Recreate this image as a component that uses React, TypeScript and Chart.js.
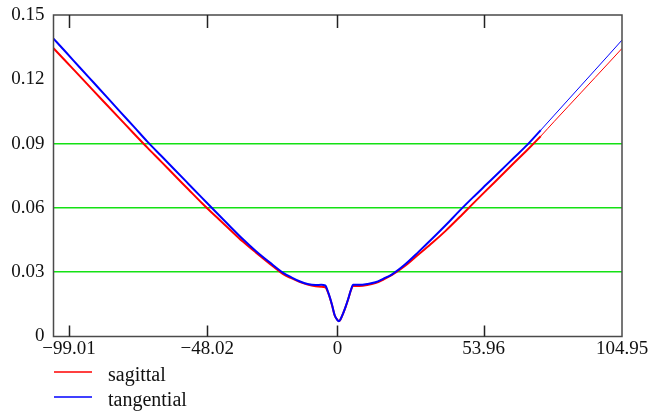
import React, { useEffect, useRef } from "react";
import { Chart, registerables } from "chart.js";

Chart.register(...registerables);

// ---- data ----
const xValues = [
  -104.7, -100, -95, -90, -85, -80, -75, -70, -65, -60, -55, -50, -45, -40, -35, -30, -25, -20, -17, -14, -11, -8,
  -6, -4.5, -3.3, -2, -1, 0, 0.5, 1, 2, 3, 4, 5, 5.8, 8, 11, 14, 17, 20, 25, 30, 35, 40, 45, 50, 55, 60, 65, 70,
  75, 80, 85, 90, 95, 100, 104.95,
];
const sagittal = [
  0.1345, 0.1282, 0.1215, 0.1147, 0.108, 0.1013, 0.0946, 0.088, 0.0816, 0.0751, 0.0687, 0.0623, 0.0562, 0.0503,
  0.0444, 0.0391, 0.034, 0.0291, 0.0272, 0.0255, 0.0242, 0.0234, 0.0232, 0.023, 0.02, 0.0147, 0.0098, 0.0078,
  0.0072, 0.0076, 0.0104, 0.0137, 0.0175, 0.0216, 0.0236, 0.0236, 0.024, 0.0249, 0.0266, 0.0286, 0.033, 0.0384,
  0.0437, 0.0494, 0.0556, 0.062, 0.0683, 0.0745, 0.0808, 0.087, 0.0935, 0.1004, 0.1072, 0.114, 0.1208, 0.1276,
  0.1344,
];
const tangential = [
  0.139, 0.1325, 0.1255, 0.1186, 0.1117, 0.1047, 0.0978, 0.0908, 0.0843, 0.0778, 0.0713, 0.0648, 0.0583, 0.0519,
  0.0456, 0.0398, 0.0346, 0.0297, 0.0276, 0.0258, 0.0245, 0.024, 0.0241, 0.0238, 0.0202, 0.0148, 0.0099, 0.0076,
  0.0071, 0.0077, 0.0104, 0.0138, 0.0176, 0.0218, 0.0241, 0.0241, 0.0245, 0.0253, 0.027, 0.0289, 0.0337, 0.0396,
  0.0457, 0.052, 0.0586, 0.0649, 0.071, 0.0771, 0.0833, 0.0894, 0.0963, 0.1033, 0.1103, 0.1173, 0.1243, 0.1313,
  0.1383,
];
const seriesLabels = ["sagittal", "tangential"];
const seriesColors = ["#ff0000", "#0000ff"];
const xTickValues = [-99.01, -48.02, 0, 53.96, 104.95];
const yTickValues = [0, 0.03, 0.06, 0.09, 0.12, 0.15];
const gridValues = [0.03, 0.06, 0.09];
const xMin = -104.7;
const xMax = 104.95;
const yMin = 0;
const yMax = 0.15;

const FONT = "'Liberation Serif', 'Times New Roman', serif";

const framePlugin = {
  id: "frameTicks",
  afterDatasetsDraw(chart: any) {
    const { ctx, chartArea, scales } = chart;
    const { left, right, top, bottom } = chartArea;
    ctx.save();
    ctx.strokeStyle = "#4a4a4a";
    ctx.lineWidth = 1.5;
    ctx.strokeRect(left, top, right - left, bottom - top);
    ctx.lineWidth = 1.5;
    ctx.strokeStyle = "#222";
    xTickValues.forEach((v) => {
      const px = Math.round(scales.x.getPixelForValue(v)) + 0.5;
      if (px > right - 2) return;
      ctx.beginPath();
      ctx.moveTo(px, bottom);
      ctx.lineTo(px, bottom - 11);
      ctx.moveTo(px, top);
      ctx.lineTo(px, top + 13);
      ctx.stroke();
    });
    ctx.restore();
  },
};

const legendPlugin = {
  id: "stackedLegend",
  afterDraw(chart: any) {
    const { ctx } = chart;
    ctx.save();
    chart.data.datasets.forEach((ds: any, i: number) => {
      const y = 372 + 25 * i;
      ctx.strokeStyle = ds.borderColor;
      ctx.lineWidth = 1.5;
      ctx.beginPath();
      ctx.moveTo(54, y);
      ctx.lineTo(92, y);
      ctx.stroke();
      ctx.fillStyle = "#111";
      ctx.font = `20px ${FONT}`;
      ctx.textBaseline = "alphabetic";
      ctx.textAlign = "left";
      ctx.fillText(ds.label, 108, y + 9);
    });
    ctx.restore();
  },
};

export default function App() {
  const canvasRef = useRef<HTMLCanvasElement | null>(null);

  useEffect(() => {
    if (!canvasRef.current) return;
    const chart = new Chart(canvasRef.current, {
      type: "line",
      data: {
        datasets: [sagittal, tangential].map((series, i) => ({
          label: seriesLabels[i],
          data: xValues.map((x, j) => ({ x, y: series[j] })),
          borderColor: seriesColors[i],
          backgroundColor: seriesColors[i],
          borderWidth: 2,
          pointRadius: 0,
          fill: false,
          order: i === 0 ? 1 : 0,
          cubicInterpolationMode: "monotone" as const,
          segment: {
            borderWidth: (c: any) => (c.p0.parsed.x > 0 && c.p0.parsed.y >= 0.09 ? 1 : 2),
          },
        })),
      },
      options: {
        animation: false,
        responsive: true,
        maintainAspectRatio: false,
        layout: { padding: { top: 15, right: 32, left: 0, bottom: 0 } },
        plugins: {
          legend: { display: false },
          tooltip: { enabled: false },
        },
        scales: {
          x: {
            type: "linear",
            min: xMin,
            max: xMax,
            afterBuildTicks: (scale: any) => {
              scale.ticks = xTickValues.map((v) => ({ value: v }));
            },
            afterFit: (scale: any) => {
              scale.height = 74.5;
            },
            grid: { display: false, drawTicks: false },
            border: { display: false },
            ticks: {
              autoSkip: false,
              maxRotation: 0,
              padding: 1,
              color: "#111",
              font: { family: FONT, size: 19 },
              callback: (v: any) => {
                const n = Number(v);
                if (n === 0) return "0";
                const s = Math.abs(n).toFixed(2);
                return n < 0 ? "\u2212" + s : s;
              },
            },
          },
          y: {
            type: "linear",
            min: yMin,
            max: yMax,
            afterBuildTicks: (scale: any) => {
              scale.ticks = yTickValues.map((v) => ({ value: v }));
            },
            afterFit: (scale: any) => {
              scale.width = 53.5;
              scale.paddingTop = 0;
              scale.paddingBottom = 0;
            },
            grid: {
              drawTicks: false,
              lineWidth: 1.5,
              color: (c: any) =>
                gridValues.some((g) => Math.abs(c.tick.value - g) < 1e-9) ? "rgb(20,225,20)" : "rgba(0,0,0,0)",
            },
            border: { display: false },
            ticks: {
              padding: 9,
              color: "#111",
              font: { family: FONT, size: 19 },
              callback: (v: any) => String(Number(Number(v).toFixed(2))),
            },
          },
        },
      },
      plugins: [framePlugin, legendPlugin],
    });
    return () => chart.destroy();
  }, []);

  return (
    <div style={{ position: "fixed", left: 0, top: 0, width: 654, height: 411, background: "#fff" }}>
      <canvas ref={canvasRef} />
    </div>
  );
}
